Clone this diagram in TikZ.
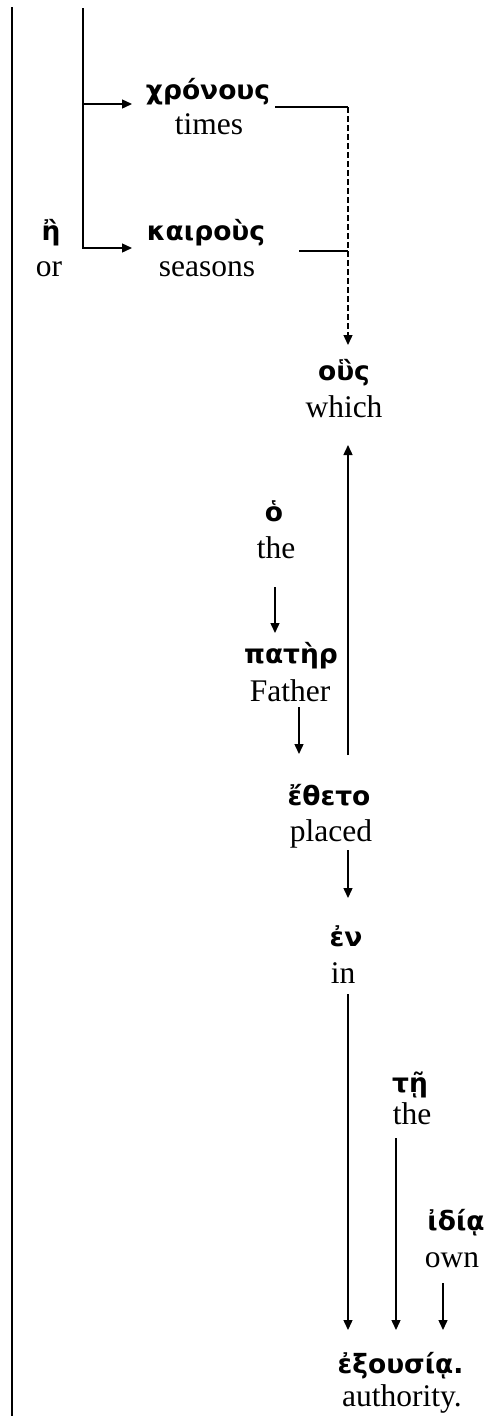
\documentclass[tikz,border=0pt]{standalone}
\usepackage{fontspec}
\setmainfont{Liberation Serif}
\newfontfamily\grk{DejaVu Sans}
\usetikzlibrary{arrows.meta,calc}
\tikzset{
  gk/.style={anchor=base, inner sep=0pt, font=\grk\bfseries\fontsize{26.5}{28}\selectfont},
  en/.style={anchor=base, inner sep=0pt, font=\fontsize{31.5}{34}\selectfont},
  ln/.style={line width=1.4pt},
  tip/.style={-{Triangle[length=10pt,width=9pt]}},
  arr/.style={ln, tip},
  dsh/.style={ln, dash pattern=on 6pt off 3pt},
}
\begin{document}
\begin{tikzpicture}[x=1pt,y=-1pt]
\useasboundingbox (0,0) rectangle (491,1416);
% words
\node[gk] (g_chronous) at (208,99) {χρόνους};
\node[en] (e_times) at (209,134) {times};
\node[gk] (g_kairous) at (206,240) {καιροὺς};
\node[en] (e_seasons) at (207,276) {seasons};
\node[gk] (g_e) at (51,240) {ἢ};
\node[en] (e_or) at (49,276) {or};
\node[gk] (g_hous) at (344,380) {οὓς};
\node[en] (e_which) at (344,417) {which};
\node[gk] (g_ho) at (274,521) {ὁ};
\node[en] (e_the1) at (276,558) {the};
\node[gk] (g_pater) at (291,663) {πατὴρ};
\node[en] (e_father) at (290,701) {Father};
\node[gk] (g_etheto) at (329,805) {ἔθετο};
\node[en] (e_placed) at (331,841) {placed};
\node[gk] (g_en) at (346,946) {ἐν};
\node[en] (e_in) at (343,983) {in};
\node[gk] (g_te) at (410,1092) {τῇ};
\node[en] (e_the2) at (412,1124) {the};
\node[gk] (g_idia) at (456,1230) {ἰδίᾳ};
\node[en] (e_own) at (452,1267) {own};
\node[gk] (g_exousia) at (400.5,1373) {ἐξουσίᾳ.};
\node[en] (e_authority) at (402,1406) {authority.};
% left margin line
\coordinate (L1) at (12,7);
\coordinate (L2) at (12,1416);
\draw[line width=2pt] (L1) -- (L2);
% bracket for the two coordinated nouns
\coordinate (B1) at (83,8);
\coordinate (Cin) at ($(g_chronous.base)+(-76,5)$);
\coordinate (Kin) at ($(g_kairous.base)+(-74,8)$);
\draw[arr] (B1) |- (Kin);
\draw[arr] (B1 |- Cin) -- (Cin);
% links to relative pronoun
\coordinate (Cout) at ($(g_chronous.base)+(67,8)$);
\coordinate (Kout) at ($(g_kairous.base)+(93,11)$);
\draw[ln] (Cout) -- ++(73,0) coordinate (J);
\draw[dsh, tip] (J) -- ($(g_hous.base)+(4,-35)$);
\draw[ln] (Kout) -- (Kout -| J);
% verb to object
\draw[arr] ($(g_etheto.base)+(19,-50)$) -- ($(e_which.base)+(4,28)$);
% article to subject
\draw[arr] ($(e_the1.base)+(-1,29)$) -- ($(g_pater.base)+(-16,-30)$);
% subject to verb
\draw[arr] ($(e_father.base)+(9,6)$) -- ($(g_etheto.base)+(-30,-51)$);
% verb to preposition
\draw[arr] ($(e_placed.base)+(17,9)$) -- ($(g_en.base)+(2,-48)$);
% preposition, article, adjective to noun
\draw[arr] ($(e_in.base)+(5,11)$) -- ($(g_exousia.base)+(-52.5,-43)$);
\draw[arr] ($(e_the2.base)+(-16,14)$) -- ($(g_exousia.base)+(-4.5,-43)$);
\draw[arr] ($(e_own.base)+(-9,16)$) -- ($(g_exousia.base)+(42.5,-43)$);
\end{tikzpicture}
\end{document}
